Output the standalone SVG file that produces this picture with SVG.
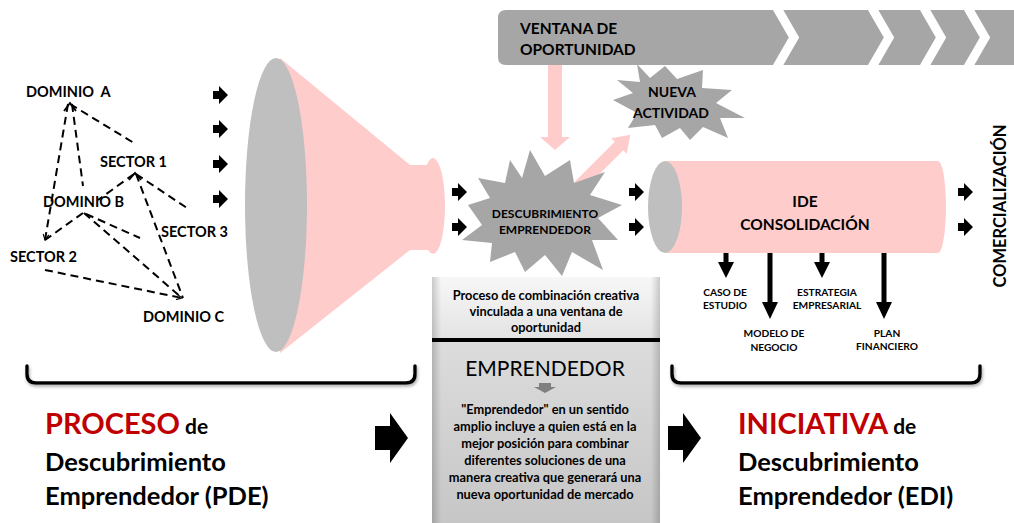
<svg xmlns="http://www.w3.org/2000/svg" width="1014" height="523" viewBox="0 0 1014 523">
<defs>
<style>
text{font-family:Lato,"Liberation Sans",sans-serif;font-weight:bold;fill:#000}
.lbl{font-size:14.5px}
.sm{font-size:10.2px}
.dash{stroke:#000;stroke-width:2;stroke-dasharray:8 5;fill:none}
.pink{fill:#ffcccc}
.star{fill:#a6a6a6}
.arr{fill:#000}
.brace{fill:none;stroke:#000;stroke-width:3.5;stroke-linecap:round}
</style>
<path id="sa" d="M0,-4 H6 V-9 L15,0 L6,9 V4 H0 Z"/>
<path id="ba" d="M0,-12 H15 V-25 L33,0 L15,25 V12 H0 Z"/>
<marker id="oh" viewBox="0 0 10 10" refX="9" refY="5" markerWidth="7" markerHeight="7" orient="auto" markerUnits="userSpaceOnUse">
<path d="M1,1 L9,5 L1,9" fill="none" stroke="#000" stroke-width="1.6"/>
</marker>
<linearGradient id="gUp" x1="0" y1="0" x2="0" y2="1"><stop offset="0" stop-color="#f7f7f7"/><stop offset="1" stop-color="#e3e3e3"/></linearGradient>
<linearGradient id="gLo" x1="0" y1="0" x2="0" y2="1"><stop offset="0" stop-color="#dcdcdc"/><stop offset="1" stop-color="#c6c6c6"/></linearGradient>
<linearGradient id="gSide" x1="0" y1="0" x2="1" y2="0"><stop offset="0" stop-color="#000" stop-opacity="0.18"/><stop offset="0.04" stop-color="#000" stop-opacity="0"/><stop offset="0.96" stop-color="#000" stop-opacity="0"/><stop offset="1" stop-color="#000" stop-opacity="0.18"/></linearGradient>
<filter id="sh" x="-5%" y="-50%" width="110%" height="200%"><feGaussianBlur in="SourceAlpha" stdDeviation="1.5"/><feOffset dx="1" dy="2" result="b"/><feFlood flood-color="#888" flood-opacity="0.7"/><feComposite in2="b" operator="in"/><feMerge><feMergeNode/><feMergeNode in="SourceGraphic"/></feMerge></filter>
</defs>
<rect width="1014" height="523" fill="#fff"/>

<!-- Ventana de oportunidad bar -->
<g id="ventana">
<path d="M506,10 H1014 V65 H506 Q498,65 498,57 V18 Q498,10 506,10 Z" fill="#a6a6a6"/>
<g fill="none" stroke="#fff" stroke-width="9">
<polyline points="777,8 794,37.5 777,67"/>
<polyline points="872,8 889,37.5 872,67"/>
<polyline points="924,8 941,37.5 924,67"/>
<polyline points="968,8 985,37.5 968,67"/>
</g>
<text x="520" y="34" font-size="15.5">VENTANA DE</text>
<text x="520" y="55" font-size="15.5">OPORTUNIDAD</text>
</g>

<!-- connectors -->
<g id="connectors">
<line class="dash" x1="70" y1="104" x2="134" y2="143"/>
<line class="dash" x1="68" y1="104" x2="45" y2="240" marker-end="url(#oh)"/>
<line class="dash" x1="72" y1="104" x2="83" y2="186"/>
<line class="dash" x1="134" y1="174" x2="98" y2="200"/>
<line class="dash" x1="136" y1="174" x2="190" y2="210"/>
<line class="dash" x1="136" y1="174" x2="183" y2="298"/>
<line class="dash" x1="83" y1="213" x2="45" y2="240"/>
<line class="dash" x1="84" y1="213" x2="182" y2="298"/>
<line class="dash" x1="86" y1="214" x2="140" y2="238"/>
<line class="dash" x1="45" y1="270" x2="182" y2="298" marker-end="url(#oh)"/>
<path d="M64,111 L70,103 L76,111" fill="none" stroke="#000" stroke-width="1.8"/>
<path d="M129,180 L135,173 L141,180" fill="none" stroke="#000" stroke-width="1.8"/>
<use href="#sa" x="213" y="95"/>
<use href="#sa" x="213" y="129"/>
<use href="#sa" x="213" y="164"/>
<use href="#sa" x="213" y="199"/>
<use href="#sa" x="452" y="192"/>
<use href="#sa" x="452" y="227"/>
<use href="#sa" x="629" y="192"/>
<use href="#sa" x="629" y="227"/>
<use href="#sa" x="958" y="192"/>
<use href="#sa" x="958" y="227"/>
<use href="#ba" x="375" y="438"/>
<use href="#ba" x="668" y="438"/>
<path class="pink" d="M548,65 H562 V137 H570 L555,150 L540,137 H548 Z"/>
<path class="pink" transform="translate(578,187) rotate(-45)" d="M0,-6 H58 V-11 L74,0 L58,11 V6 H0 Z"/>
<path class="arr" d="M723.5,253 H728.5 V262 H734 L726,278 L718,262 H723.5 Z"/>
<path class="arr" d="M767.5,253 H772.5 V302 H778 L770,319 L762,302 H767.5 Z"/>
<path class="arr" d="M819.5,253 H824.5 V262 H830 L822,278 L814,262 H819.5 Z"/>
<path class="arr" d="M881.5,253 H886.5 V302 H892 L884,319 L876,302 H881.5 Z"/>
</g>

<!-- labels left -->
<g id="dominioA"><text class="lbl" x="26" y="97" style="white-space:pre">DOMINIO  A</text></g>
<g id="sector1"><text class="lbl" x="100" y="167">SECTOR 1</text></g>
<g id="dominioB"><text class="lbl" x="43" y="207">DOMINIO B</text></g>
<g id="sector3"><text class="lbl" x="161" y="237">SECTOR 3</text></g>
<g id="sector2"><text class="lbl" x="10" y="262">SECTOR 2</text></g>
<g id="dominioC"><text class="lbl" x="143" y="322">DOMINIO C</text></g>

<!-- funnel -->
<g id="funnel">
<path class="pink" d="M280,58 L410,165 H433 V250 H410 L280,353 Z"/>
<ellipse class="pink" cx="433" cy="206" rx="12" ry="48"/>
<ellipse cx="276" cy="205" rx="31" ry="147" fill="#bfbfbf"/>
</g>

<!-- Descubrimiento emprendedor star -->
<g id="descubrimiento">
<polygon class="star" points="530,150 545,176 570,160 574,183 605,172 590,195 622,205 598,218 618,240 592,240 603,270 572,252 562,276 545,255 525,272 515,252 490,262 492,243 462,240 482,225 468,205 490,198 478,178 505,183 510,160 522,178"/>
<text x="545" y="218" font-size="12" text-anchor="middle">DESCUBRIMIENTO</text>
<text x="545" y="234" font-size="12" text-anchor="middle">EMPRENDEDOR</text>
</g>

<!-- Nueva actividad star -->
<g id="nueva">
<polygon class="star" points="637,64 650,78 665,66 677,79 703,70 702,88 732,90 716,103 745,118 720,118 728,138 703,127 690,140 680,128 662,138 655,125 628,128 637,113 613,100 633,93 617,80 640,82"/>
<text x="672" y="97" font-size="14" text-anchor="middle">NUEVA</text>
<text x="671" y="118" font-size="14" text-anchor="middle">ACTIVIDAD</text>
</g>

<!-- cylinder -->
<g id="consolidacion">
<path class="pink" d="M665,161 H938 A8,46 0 0 1 938,253 H665 Z"/>
<ellipse cx="665" cy="207" rx="17" ry="46" fill="#bfbfbf"/>
<text x="805" y="207" font-size="15.5" text-anchor="middle">IDE</text>
<text x="805" y="230" font-size="15.5" text-anchor="middle">CONSOLIDACIÓN</text>
</g>

<g id="caso"><text class="sm" x="725" y="296" text-anchor="middle">CASO DE</text><text class="sm" x="725" y="309" text-anchor="middle">ESTUDIO</text></g>
<g id="modelo"><text class="sm" x="774" y="337" text-anchor="middle">MODELO DE</text><text class="sm" x="774" y="351" text-anchor="middle">NEGOCIO</text></g>
<g id="estrategia"><text class="sm" x="827" y="296" text-anchor="middle">ESTRATEGIA</text><text class="sm" x="827" y="309" text-anchor="middle">EMPRESARIAL</text></g>
<g id="plan"><text class="sm" x="887" y="337" text-anchor="middle">PLAN</text><text class="sm" x="887" y="350" text-anchor="middle">FINANCIERO</text></g>

<g id="comercializacion"><text x="1006" y="206" font-size="16.5" text-anchor="middle" transform="rotate(-90 1006 206)">COMERCIALIZACIÓN</text></g>

<!-- center box -->
<g id="emprendedor">
<rect x="432" y="277" width="228" height="62" fill="url(#gUp)"/>
<rect x="432" y="342" width="228" height="181" fill="url(#gLo)"/>
<rect x="432" y="277" width="228" height="246" fill="url(#gSide)"/>
<rect x="432" y="338" width="228" height="4" fill="#000"/>
<g font-size="12.8" text-anchor="middle">
<text x="546" y="300">Proceso de combinación creativa</text>
<text x="546" y="316">vinculada a una ventana de</text>
<text x="546" y="332">oportunidad</text>
</g>
<text x="545" y="376" font-size="21" text-anchor="middle" style="font-weight:normal">EMPRENDEDOR</text>
<path d="M539,383 H551 V387 H556 L545,393 L534,387 H539 Z" fill="#7f7f7f"/>
<g font-size="12.8" text-anchor="middle">
<text x="545" y="414">"Emprendedor" en un sentido</text>
<text x="545" y="431">amplio incluye a quien está en la</text>
<text x="545" y="448">mejor posición para combinar</text>
<text x="545" y="465">diferentes soluciones de una</text>
<text x="545" y="482">manera creativa que generará una</text>
<text x="545" y="499">nueva oportunidad de mercado</text>
</g>
</g>

<!-- braces -->
<g id="braces" filter="url(#sh)">
<path class="brace" d="M27,366 V374 Q27,383 36,383 H406 Q415,383 415,374 V366"/>
<path class="brace" d="M672,366 V374 Q672,383 681,383 H971 Q980,383 980,374 V366"/>
</g>

<!-- titles -->
<g id="pde">
<text x="45" y="434" font-size="29"><tspan fill="#c00000">PROCESO</tspan><tspan font-size="21"> de</tspan></text>
<text x="45" y="471" font-size="25.5">Descubrimiento</text>
<text x="45" y="505" font-size="25.5">Emprendedor (PDE)</text>
</g>
<g id="edi">
<text x="738" y="434" font-size="29"><tspan fill="#c00000">INICIATIVA</tspan><tspan font-size="21"> de</tspan></text>
<text x="738" y="471" font-size="25.5">Descubrimiento</text>
<text x="738" y="505" font-size="25.5">Emprendedor (EDI)</text>
</g>
</svg>
